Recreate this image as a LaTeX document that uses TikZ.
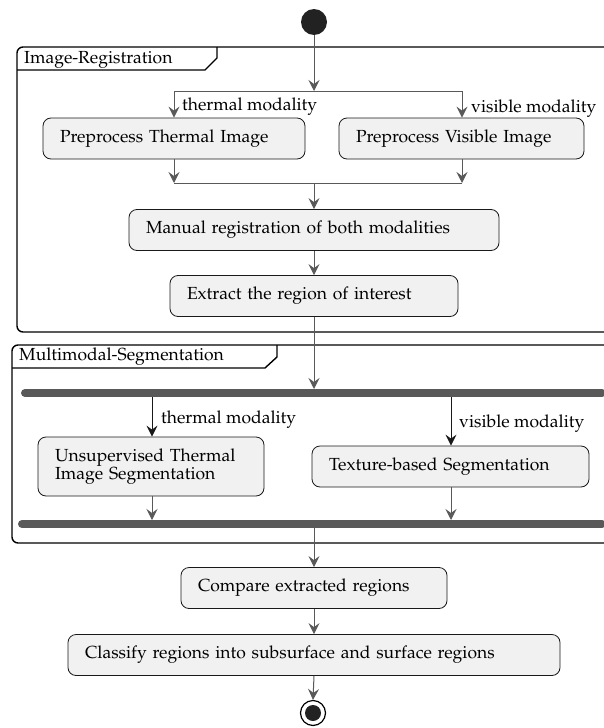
\documentclass[tikz,border=0pt]{standalone}
\usepackage[T1]{fontenc}
\usepackage{mathpazo}
\usetikzlibrary{arrows.meta}
\definecolor{lncol}{HTML}{595959}
\definecolor{boxfill}{HTML}{F1F1F1}
\definecolor{dotcol}{HTML}{222222}
\begin{document}
\begin{tikzpicture}[x=1pt,y=-1pt,
  every node/.style={font=\fontsize{17.5}{18}\selectfont},
  act/.style={draw=black!90, fill=boxfill, rounded corners=8pt, line width=0.8pt,
    inner xsep=17pt, inner ysep=0pt, align=left, minimum height=41pt},
  flow/.style={draw=lncol, line width=1pt, -{Stealth[length=11pt,width=11pt,inset=4pt]}},
  flowk/.style={draw=black!90, line width=1pt, -{Stealth[length=11pt,width=11pt,inset=4pt]}},
  plain/.style={draw=lncol, line width=1pt},
  frame/.style={draw=black, line width=1.4pt},
  bar/.style={draw=lncol, line width=8pt, line cap=round},
  lbl/.style={anchor=west, inner sep=0pt}
]
\useasboundingbox (0,0) rectangle (604,728);
\clip (0,0) rectangle (604,728);

% frames
\draw[frame, rounded corners=6pt] (630,332) -- (17,332) -- (17,47) -- (630,47);
\draw[frame] (17,70) -- (205,70) -- (217,58) -- (217,47);
\node[lbl] (t1) at (24,60) {Image-Registration};

\draw[frame, rounded corners=6pt] (630,543) -- (12,543) -- (12,345) -- (630,345);
\draw[frame] (12,368) -- (265,368) -- (277,357) -- (277,345);
\node[lbl] (t2) at (19,357) {Multimodal-Segmentation};

% start
\node[circle, fill=dotcol, minimum size=26pt, inner sep=0pt] (start) at (314,22) {};

% coordinates
\coordinate (f1) at (314,91);
\coordinate (f1l) at (174,91);
\coordinate (f1r) at (462,91);
\coordinate (j1) at (314,183);
\coordinate (j1l) at (174,183);
\coordinate (j1r) at (462,183);

% activities
\node[act, minimum width=262pt, text width=228pt] (pth) at (174,138.5) {Preprocess Thermal Image};
\node[act, minimum width=245pt, text width=211pt] (pvi) at (461.5,138.5) {Preprocess Visible Image};
\node[act, minimum width=370pt, text width=336pt] (man) at (314,230) {Manual registration of both modalities};
\node[act, minimum width=288pt, text width=254pt] (ext) at (314,296) {Extract the region of interest};
\node[act, minimum width=226pt, text width=192pt, minimum height=59pt] (uts) at (151,466.5) {\fontsize{17.5}{15}\selectfont Unsupervised Thermal\\Image Segmentation};
\node[act, minimum width=277pt, text width=243pt] (tex) at (450.5,466.5) {Texture-based Segmentation};
\node[act, minimum width=266pt, text width=232pt] (cmp) at (314,588) {Compare extracted regions};
\node[act, minimum width=492pt, text width=458pt] (cls) at (314,655) {Classify regions into subsurface and surface regions};

% bars
\draw[bar] (25,393) -- (602,393);
\draw[bar] (22,524) -- (602,524);
\coordinate (b1) at (314,389);
\coordinate (b1l) at (152,397);
\coordinate (b1r) at (451,397);
\coordinate (b2l) at (152,520);
\coordinate (b2r) at (451,520);
\coordinate (b2) at (314,528);

% end
\node[circle, draw=black, line width=1.2pt, fill=white, minimum size=25pt, inner sep=0pt] (end) at (313,713) {};
\node[circle, fill=dotcol, minimum size=16pt, inner sep=0pt] (endin) at (end.center) {};

% flows
\draw[flow] (start.south) -- (f1);
\draw[plain] (f1l) -- (f1r);
\draw[flow] (f1l) -- (pth.north -| f1l);
\draw[flow] (f1r) -- (pvi.north -| f1r);
\node[lbl] (lt1) at (182,107) {thermal modality};
\node[lbl] (lv1) at (471,109) {visible modality};
\draw[flow] (pth.south -| j1l) -- (j1l);
\draw[flow] (pvi.south -| j1r) -- (j1r);
\draw[plain] (j1l) -- (j1r);
\draw[flow] (j1) -- (man.north);
\draw[flow] (man.south) -- (ext.north);
\draw[flow] (ext.south) -- (b1);

\draw[flowk] (b1l) -- (uts.north -| b1l);
\draw[flowk] (b1r) -- (tex.north -| b1r);
\node[lbl] (lt2) at (161,420) {thermal modality};
\node[lbl] (lv2) at (459,424) {visible modality};
\draw[flow] (uts.south -| b2l) -- (b2l);
\draw[flow] (tex.south -| b2r) -- (b2r);
\draw[flow] (b2) -- (cmp.north);
\draw[flow] (cmp.south) -- (cls.north);
\draw[flow] (cls.south) -- (end.north);
\end{tikzpicture}
\end{document}
